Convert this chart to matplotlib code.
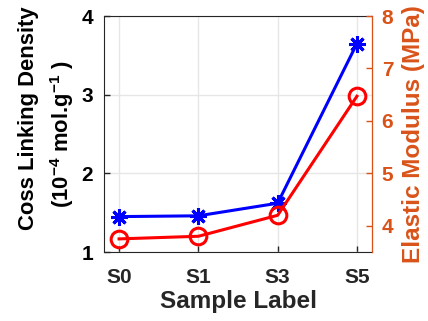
import matplotlib
matplotlib.use('Agg')
from matplotlib import pyplot as plt

samples = ['S0', 'S1', 'S3', 'S5']
crosslink = [1.45, 1.46, 1.62, 3.65]
modulus = [3.75, 3.80, 4.20, 6.47]

plt.rcParams['font.family'] = ['Liberation Sans', 'DejaVu Sans']
plt.rcParams['font.weight'] = 'bold'
plt.rcParams['mathtext.fontset'] = 'custom'
plt.rcParams['mathtext.bf'] = 'Liberation Sans:bold'
plt.rcParams['mathtext.rm'] = 'Liberation Sans:bold'
plt.rcParams['mathtext.default'] = 'bf'

orange = '#D95319'
dark = '#262626'
W, H = 428, 321

fig = plt.figure(figsize=(4.28, 3.21), dpi=100)
ax = fig.add_axes([104/W, 1 - 252/H, (372-104)/W, (252-16)/H])
ax2 = ax.twinx()

x = list(range(len(samples)))
ax.plot(x, crosslink, color='blue', lw=2.2, marker=(8, 2, 0), ms=12, mew=2.2)
ax2.plot(x, modulus, color='red', lw=2.2, marker='o', ms=12, mfc='none', mew=2.2)

ax.set_xlim(-0.19, 3.19)
ax.set_ylim(1, 4)
ax2.set_ylim(3.5, 8)
ax.set_xticks(x)
ax.set_xticklabels(samples)
ax.set_yticks([1, 2, 3, 4])
ax2.set_yticks([4, 5, 6, 7, 8])

ax.grid(True, color='#e6e6e6', lw=1)
ax.set_axisbelow(True)

for a in (ax, ax2):
    a.tick_params(direction='in', labelsize=15, width=1, length=4)
ax.tick_params(axis='y', pad=8, colors=dark, labelcolor='black')
ax.tick_params(axis='x', pad=11.5, colors=dark, labelcolor=dark)
ax2.tick_params(axis='y', colors=orange, pad=7)
ax2.spines['right'].set_color(orange)
for s in ('left', 'bottom', 'top'):
    ax.spines[s].set_color(dark)
    ax2.spines[s].set_visible(False)

ax.set_xlabel('Sample Label', fontsize=17.5, fontweight='bold', color=dark, labelpad=2)
ax2.set_ylabel('Elastic Modulus (MPa)', fontsize=17.5, fontweight='bold', color=orange, labelpad=6)

# two-line left label, lines placed separately like the original
fig.text(34/W, 1 - 118.5/H, 'Coss Linking Density', fontsize=15.8, fontweight='bold',
         rotation=90, rotation_mode='anchor', ha='center', va='baseline')
fig.text(69/W, 1 - 134/H, '(10$^{-4}$ mol.g$^{-1}$ )', fontsize=15.8, fontweight='bold',
         rotation=90, rotation_mode='anchor', ha='center', va='baseline')

plt.savefig('out.png', dpi=100)
